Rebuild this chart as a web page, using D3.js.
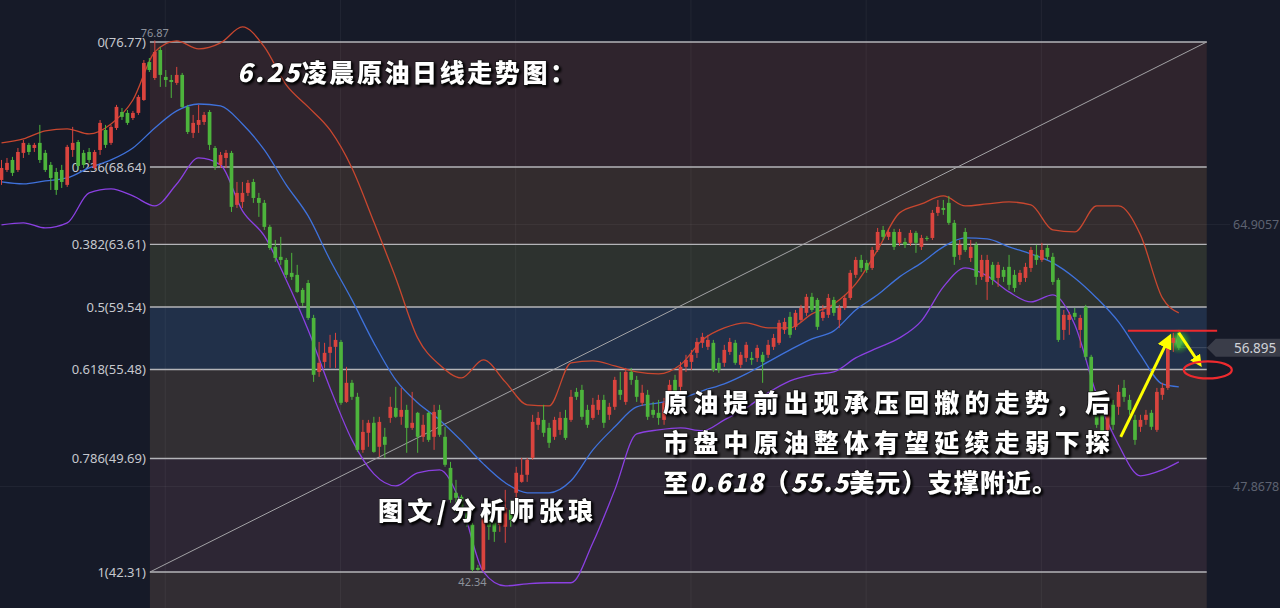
<!DOCTYPE html>
<html><head><meta charset="utf-8">
<script src="https://cdn.jsdelivr.net/npm/d3@7"></script>
<style>
html,body{margin:0;padding:0;background:#161a28;overflow:hidden}
svg{display:block}
</style></head><body>
<svg id="c" width="1280" height="608"></svg>
<script>
// ---------------- DATA ----------------
const fibRatios = [0, 0.236, 0.382, 0.5, 0.618, 0.786, 1];
const fibPrices = [76.77, 68.64, 63.61, 59.54, 55.48, 49.69, 42.31];
const fibAnchor = [27.1, 220.1];           // candle index where the fib tool starts / ends
const axisTicks = [64.9057, 47.8678];
const gridIdx = [29.9, 61.9, 93.9, 125.9, 157.9, 189.9];
const lastPrice = 56.895;
const highMark = [28, 76.87];
const lowMark = [86, 42.34];

// candles: [open, high, low, close]
const candles = [
[67.80,69.10,67.48,68.58],[68.45,69.23,68.32,68.91],[69.10,69.30,68.06,68.26],[68.45,69.88,68.32,69.62],[69.56,70.40,69.23,70.21],
[70.08,70.21,69.43,69.62],[69.88,70.21,69.62,70.08],[70.21,71.38,68.91,69.10],[69.56,69.75,68.32,68.45],[68.78,68.97,67.15,67.93],
[68.32,68.58,66.83,67.15],[68.45,68.78,67.28,67.67],[67.48,70.08,67.35,69.95],[69.75,71.25,69.30,70.21],[70.27,70.40,68.45,68.71],
[69.56,69.75,68.58,68.78],[69.62,69.88,68.91,69.10],[68.58,69.75,68.45,69.62],[69.75,71.70,69.43,71.51],[71.05,71.38,69.88,70.08],
[70.21,71.38,70.08,71.25],[71.18,72.68,71.05,72.55],[72.22,72.48,71.70,71.90],[72.16,72.35,71.38,71.51],[71.83,72.29,71.70,72.16],
[72.16,73.33,72.03,73.20],[73.00,75.60,72.94,75.41],[75.47,75.73,74.82,74.95],[74.43,76.87,74.30,76.12],[76.25,76.45,73.85,74.63],
[74.50,74.95,73.85,74.30],[74.30,74.63,73.13,74.17],[74.11,75.15,73.98,74.63],[74.63,74.76,72.48,72.55],[72.55,72.68,70.79,70.92],
[70.86,72.03,70.53,71.51],[71.38,72.68,70.86,71.70],[71.57,72.22,71.38,72.03],[72.22,72.35,69.75,70.08],[69.88,70.01,68.45,68.65],
[68.78,69.62,68.58,69.43],[69.23,69.75,68.58,69.56],[69.56,69.69,65.72,66.05],[66.18,67.67,65.98,66.96],[66.37,67.67,65.98,66.96],
[66.96,67.80,66.76,67.61],[67.67,67.87,66.31,66.63],[66.63,66.96,65.40,66.31],[66.31,66.50,64.55,64.75],[64.75,64.88,63.25,63.38],
[63.45,63.90,62.47,62.73],[62.80,64.10,62.28,62.60],[62.60,62.73,61.43,61.63],[61.76,63.06,61.30,61.50],[61.63,62.28,60.46,60.52],
[60.65,60.78,59.61,59.81],[61.10,61.30,58.70,58.83],[58.83,59.03,54.67,55.13],[55.32,57.27,55.00,55.91],[55.97,57.21,55.58,56.56],
[56.56,57.73,55.58,56.95],[56.95,57.86,55.58,57.40],[57.27,57.40,53.18,53.31],[53.37,55.65,53.31,54.61],[54.61,54.80,53.50,53.70],
[53.70,53.96,50.12,50.25],[50.25,52.20,50.06,51.42],[51.36,52.20,50.45,52.01],[52.01,52.40,50.06,50.12],[50.45,52.40,49.80,52.07],
[51.10,51.68,49.73,50.58],[52.33,53.70,52.01,53.05],[52.98,54.35,52.33,52.40],[52.40,54.28,51.88,52.85],[52.85,53.18,50.06,51.68],
[51.68,54.02,51.55,52.01],[52.66,52.72,50.06,51.10],[51.10,52.53,50.77,51.88],[52.66,52.72,50.77,50.90],[51.10,53.18,50.25,52.72],
[52.85,53.18,51.10,51.23],[51.10,51.75,49.15,49.28],[49.08,49.47,46.81,47.00],[47.46,48.30,46.16,47.13],[47.20,47.33,46.16,46.35],
[46.48,46.55,45.25,45.51],[45.38,45.51,42.34,42.45],[42.58,42.78,42.40,42.45],[42.45,46.03,42.36,45.90],[45.90,46.35,44.40,45.25],
[45.51,46.81,44.27,44.92],[45.38,46.03,44.92,45.90],[45.25,47.65,44.21,46.48],[46.35,47.00,45.25,45.70],[47.46,49.15,45.70,48.76],
[48.17,49.73,48.11,48.63],[48.63,49.73,48.17,49.60],[49.73,52.53,49.60,52.07],[51.88,52.72,51.55,52.33],[52.20,53.18,51.10,51.36],
[51.68,52.01,50.38,50.71],[51.10,52.40,50.90,52.20],[51.55,52.72,51.23,52.33],[52.33,52.85,50.90,51.03],[52.20,54.15,52.07,53.70],
[54.02,54.28,53.50,53.70],[54.15,54.48,52.20,52.40],[52.85,53.18,51.68,51.88],[52.33,53.63,52.20,53.18],[52.85,53.83,52.53,53.50],
[53.50,53.83,51.68,52.01],[52.53,53.31,52.20,53.05],[53.05,55.00,52.85,54.80],[54.15,55.32,53.50,53.83],[53.37,55.58,53.18,55.32],
[55.32,55.58,54.48,54.80],[54.80,55.06,53.37,53.70],[53.31,54.48,53.11,53.96],[53.83,54.15,52.20,52.40],[52.85,53.37,52.33,52.53],
[52.66,53.50,51.88,52.33],[52.20,53.63,51.88,53.31],[53.37,54.80,53.18,54.48],[54.80,55.13,53.50,53.83],[54.35,55.97,54.02,55.65],
[55.65,56.43,55.32,56.10],[55.97,56.75,55.45,56.43],[56.56,57.53,56.23,57.27],[57.21,57.86,56.88,57.60],[56.95,57.73,56.75,57.40],
[57.21,57.40,55.32,55.45],[55.91,56.23,55.26,55.45],[55.91,57.08,55.65,56.75],[56.62,57.53,56.43,57.27],[57.21,57.40,55.78,55.91],
[55.78,56.62,55.58,56.43],[56.23,57.27,55.97,57.08],[56.23,56.62,55.78,56.10],[56.23,57.08,55.97,56.88],[56.43,56.62,54.61,55.97],
[56.43,57.40,56.23,57.08],[56.95,57.79,56.75,57.53],[57.21,58.70,57.08,58.51],[58.05,58.83,57.79,58.57],[58.90,59.22,57.53,57.73],
[58.25,59.35,58.05,59.16],[58.70,59.68,58.57,59.48],[59.16,60.39,58.96,60.20],[60.20,60.46,59.22,59.35],[60.00,60.13,58.05,58.25],
[58.83,59.68,58.64,59.22],[59.03,60.39,58.83,60.13],[60.00,60.20,58.96,59.16],[58.70,59.68,58.18,59.48],[59.48,60.33,59.35,60.13],
[60.13,61.95,60.00,61.76],[61.63,62.80,61.43,62.60],[62.60,62.93,61.82,62.08],[62.41,62.60,61.76,61.95],[62.08,63.45,61.95,63.25],
[63.25,64.68,63.12,64.42],[64.55,64.81,63.90,64.10],[64.10,64.62,63.90,64.42],[64.42,64.62,63.25,63.45],[63.71,64.62,63.51,64.42],
[63.77,64.03,63.38,63.58],[63.71,64.55,63.51,64.36],[64.36,64.49,63.06,63.71],[63.45,64.23,63.25,64.03],[64.03,64.16,63.84,63.97],
[64.03,65.85,63.90,65.66],[65.66,66.50,65.46,66.05],[65.98,66.50,65.53,65.85],[66.31,66.76,64.88,65.01],[65.01,65.20,62.28,62.80],
[62.93,63.90,62.60,63.58],[64.42,64.68,63.12,63.25],[62.73,63.90,62.47,63.45],[63.58,63.77,60.98,61.50],[61.50,62.93,61.30,62.60],
[61.17,62.93,60.00,62.60],[62.28,62.47,60.98,61.30],[61.43,62.47,60.85,62.28],[61.95,62.15,61.17,61.50],[62.15,62.93,60.65,60.98],
[61.63,61.95,60.52,60.78],[61.17,61.95,60.98,61.76],[61.43,62.41,61.17,62.15],[62.08,63.45,61.82,63.25],[62.93,63.58,62.28,62.60],
[62.60,63.71,62.47,63.25],[63.38,63.58,62.60,62.80],[62.80,63.06,60.98,61.17],[61.30,61.43,57.27,57.40],[58.05,59.35,57.40,59.03],
[58.70,59.22,57.73,59.03],[59.16,59.48,58.70,58.90],[58.05,59.03,56.88,58.83],[59.55,59.68,56.10,56.30],[56.30,56.43,52.72,52.85],
[53.18,53.50,51.68,51.88],[52.53,52.85,50.90,51.23],[51.55,53.18,51.42,52.85],[53.18,53.50,51.55,51.88],[53.05,54.48,52.53,54.02],
[54.28,54.80,53.37,53.70],[53.50,53.83,52.53,52.85],[52.20,52.53,50.58,50.90],[51.75,52.53,51.42,52.20],[52.20,52.85,51.88,52.53],
[52.66,52.85,51.55,51.75],[51.55,54.28,51.42,54.02],[53.83,54.61,53.50,54.28],[54.28,57.40,54.15,57.27],[57.21,57.86,56.62,57.53],
[57.86,58.05,56.75,56.895]
];

// Bollinger bands sampled at these candle indices
const bandIdx = [0,4,8,12,16,20,24,28,32,36,40,44,48,52,56,60,64,68,72,76,80,84,88,92,96,100,104,108,112,116,120,124,128,132,136,140,144,148,152,156,160,164,168,172,176,180,184,188,192,196,200,204,208,212,215];
const upperBand = [70.21,70.47,70.99,71.12,70.79,71.44,73.00,76.12,76.84,76.32,76.71,77.75,76.45,73.98,72.55,71.05,68.58,65.07,61.43,57.53,55.78,54.93,56.10,54.67,53.18,53.11,55.91,56.04,55.71,55.32,55.19,55.78,57.40,58.18,58.51,58.18,58.18,59.09,59.74,61.04,63.25,65.66,66.24,66.76,66.11,66.24,66.37,66.18,64.55,64.42,66.11,66.11,64.23,60.13,59.16];
const midBand = [67.67,67.54,67.74,67.93,68.58,69.10,69.88,71.18,72.29,72.74,72.61,71.44,69.75,67.48,65.46,62.60,60.00,57.21,54.80,53.31,52.20,50.84,49.34,48.11,47.46,47.46,48.24,50.25,51.75,53.05,53.31,53.57,54.09,54.54,55.19,55.97,56.75,57.47,57.99,59.35,60.33,61.50,62.41,63.45,64.03,63.97,63.45,62.99,62.41,61.43,60.13,58.57,56.43,54.54,54.35];
const lowerBand = [64.88,65.01,64.68,65.01,66.96,67.22,66.76,66.11,67.54,69.23,68.78,65.79,64.16,61.30,58.05,54.28,50.90,48.69,47.91,48.76,48.95,46.68,42.32,41.41,41.54,41.61,41.61,44.21,47.65,51.29,51.55,51.68,51.49,52.20,52.98,53.96,54.74,55.13,55.32,56.23,56.88,57.53,58.64,60.85,62.08,61.56,60.52,59.87,60.33,58.38,53.83,50.58,48.56,48.95,49.47];

// hand-drawn annotations (candle index, price)
const resistanceLine = [[205.7, 58.0], [222.0, 58.0]];
const arrowUp = [[204.4, 51.1], [213.1, 57.45]];
const arrowDown = [[215.0, 57.86], [218.7, 55.9]];
const targetSpot = [220.3, 55.45];

const titleText = "6.25凌晨原油日线走势图：";
const creditText = "图文/分析师张琅";
const noteLines = ["原油提前出现承压回撤的走势，后", "市盘中原油整体有望延续走弱下探", "至0.618（55.5美元）支撑附近。"];

// ---------------- DRAW ----------------
const W = 1280, H = 608;
const svg = d3.select('#c');
const x = d3.scaleLinear().domain([0, 215]).range([1.5, 1178.8]);
const y = d3.scaleLinear().domain([42.31, 76.77]).range([572, 42]);

const defs = svg.append('defs');
const sh = defs.append('filter').attr('id', 'ts').attr('x', '-5%').attr('y', '-30%').attr('width', '115%').attr('height', '170%');
sh.append('feDropShadow').attr('dx', 1.8).attr('dy', 1.8).attr('stdDeviation', 1).attr('flood-color', '#000').attr('flood-opacity', 1);
const gl = defs.append('radialGradient').attr('id', 'glow');
gl.append('stop').attr('offset', '0%').attr('stop-color', '#7dff5e').attr('stop-opacity', 0.9);
gl.append('stop').attr('offset', '55%').attr('stop-color', '#3ecf2c').attr('stop-opacity', 0.45);
gl.append('stop').attr('offset', '100%').attr('stop-color', '#2a9a20').attr('stop-opacity', 0);
function marker(id, size) {
  defs.append('marker').attr('id', id).attr('viewBox', '0 0 10 10').attr('refX', 6).attr('refY', 5)
    .attr('markerUnits', 'userSpaceOnUse').attr('markerWidth', size).attr('markerHeight', size).attr('orient', 'auto')
    .append('path').attr('d', 'M0,0 L10,5 L0,10 Z').attr('fill', '#ffff00');
}
marker('ah1', 15); marker('ah2', 12);

svg.append('rect').attr('width', W).attr('height', H).attr('fill', '#161a28');

// fib zones
const zoneColors = ['#2f242d', '#332c2e', '#2d322f', '#213049', '#322f33', '#2d2634', '#322d33'];
const fx0 = x(fibAnchor[0]), fx1 = x(fibAnchor[1]);
const zoneEdges = fibPrices.map(p => y(p)).concat([H]);
svg.append('g').selectAll('rect').data(d3.range(zoneEdges.length - 1)).join('rect')
  .attr('x', fx0).attr('width', fx1 - fx0)
  .attr('y', k => zoneEdges[k]).attr('height', k => zoneEdges[k + 1] - zoneEdges[k])
  .attr('fill', k => zoneColors[k]);

// grid
svg.append('g').selectAll('line').data(gridIdx).join('line')
  .attr('x1', d => x(d)).attr('x2', d => x(d)).attr('y1', 0).attr('y2', H)
  .attr('stroke', '#ffffff').attr('stroke-opacity', 0.05);
svg.append('g').selectAll('line').data(axisTicks).join('line')
  .attr('x1', 0).attr('x2', 1230).attr('y1', d => y(d)).attr('y2', d => y(d))
  .attr('stroke', '#ffffff').attr('stroke-opacity', 0.05);

// fib lines + labels
svg.append('g').selectAll('line').data(fibPrices).join('line')
  .attr('x1', fx0).attr('x2', fx1).attr('y1', d => y(d)).attr('y2', d => y(d))
  .attr('stroke', '#b4b4b8').attr('stroke-width', 1.4);
svg.append('g').selectAll('text').data(fibPrices).join('text')
  .attr('x', fx0 - 4).attr('y', d => y(d) + 5).attr('text-anchor', 'end')
  .attr('font-family', '"Noto Sans", "Open Sans", sans-serif').attr('font-size', 13).attr('fill', '#c6c8ce')
  .text((d, i) => `${fibRatios[i]}(${d.toFixed(2)})`);

// diagonal of the fib tool
svg.append('line').attr('x1', fx0).attr('y1', y(fibPrices[6])).attr('x2', fx1).attr('y2', y(fibPrices[0]))
  .attr('stroke', '#a3a3a6').attr('stroke-width', 1);

// right axis
svg.append('g').selectAll('text').data(axisTicks).join('text')
  .attr('x', 1233).attr('y', d => y(d) + 4.5)
  .attr('font-family', '"Noto Sans", sans-serif').attr('font-size', 12.5).attr('fill', '#5d6271')
  .text(d => d);

// bollinger bands
const line = vals => d3.line().x((d, i) => x(bandIdx[i])).y(d => y(d)).curve(d3.curveMonotoneX)(vals);
svg.append('path').attr('d', line(upperBand)).attr('fill', 'none').attr('stroke', '#c9472f').attr('stroke-width', 1.3);
svg.append('path').attr('d', line(midBand)).attr('fill', 'none').attr('stroke', '#3f72dc').attr('stroke-width', 1.3);
svg.append('path').attr('d', line(lowerBand)).attr('fill', 'none').attr('stroke', '#8b40e2').attr('stroke-width', 1.3);

// last price guide
svg.append('line').attr('x1', x(215)).attr('x2', fx1).attr('y1', y(lastPrice)).attr('y2', y(lastPrice))
  .attr('stroke', '#ffffff').attr('stroke-opacity', 0.15);

// glow behind last candle
svg.append('circle').attr('cx', x(215)).attr('cy', y(57.3)).attr('r', 13).attr('fill', 'url(#glow)');

// candles
const up = '#da443e', dn = '#4db43c';
const cg = svg.append('g');
cg.selectAll('line').data(candles).join('line')
  .attr('x1', (d, i) => x(i)).attr('x2', (d, i) => x(i))
  .attr('y1', d => y(d[1])).attr('y2', d => y(d[2]))
  .attr('stroke', d => d[3] >= d[0] ? up : dn).attr('stroke-width', 1);
const bw = 3.7;
cg.selectAll('rect').data(candles).join('rect')
  .attr('x', (d, i) => x(i) - bw / 2).attr('width', bw)
  .attr('y', d => y(Math.max(d[0], d[3])))
  .attr('height', d => Math.max(1, Math.abs(y(d[0]) - y(d[3]))))
  .attr('fill', d => d[3] >= d[0] ? up : dn);

// high / low marks
svg.append('text').attr('x', x(highMark[0])).attr('y', y(highMark[1]) - 3).attr('text-anchor', 'middle')
  .attr('font-family', '"Noto Sans", sans-serif').attr('font-size', 11).attr('fill', '#8d919b').text(highMark[1]);
svg.append('text').attr('x', x(lowMark[0])).attr('y', y(lowMark[1]) + 14).attr('text-anchor', 'middle')
  .attr('font-family', '"Noto Sans", sans-serif').attr('font-size', 11).attr('fill', '#8d919b').text(lowMark[1]);

// price tag
const ty = y(lastPrice);
svg.append('path').attr('d', `M${fx1},${ty} L${fx1 + 9},${ty - 9} L${W},${ty - 9} L${W},${ty + 9} L${fx1 + 9},${ty + 9} Z`)
  .attr('fill', '#3a3d49');
svg.append('text').attr('x', 1234).attr('y', ty + 5).attr('font-family', '"Noto Sans", sans-serif')
  .attr('font-size', 13.5).attr('fill', '#cfd1d7').text(lastPrice);

// annotations
svg.append('line').attr('x1', x(resistanceLine[0][0])).attr('x2', x(resistanceLine[1][0]))
  .attr('y1', y(resistanceLine[0][1])).attr('y2', y(resistanceLine[1][1]))
  .attr('stroke', '#ee2a2e').attr('stroke-width', 2);
svg.append('line').attr('x1', x(arrowUp[0][0])).attr('y1', y(arrowUp[0][1]))
  .attr('x2', x(arrowUp[1][0])).attr('y2', y(arrowUp[1][1]))
  .attr('stroke', '#ffff00').attr('stroke-width', 3).attr('marker-end', 'url(#ah1)');
svg.append('line').attr('x1', x(arrowDown[0][0])).attr('y1', y(arrowDown[0][1]))
  .attr('x2', x(arrowDown[1][0])).attr('y2', y(arrowDown[1][1]))
  .attr('stroke', '#ffff00').attr('stroke-width', 3).attr('marker-end', 'url(#ah2)');
svg.append('ellipse').attr('cx', x(targetSpot[0])).attr('cy', y(targetSpot[1])).attr('rx', 24).attr('ry', 8.5)
  .attr('fill', 'none').attr('stroke', '#ee2a2e').attr('stroke-width', 2.2);

// captions (digits slanted like the brush font)
function caption(str, px, py, len) {
  const t = svg.append('text').attr('x', px).attr('y', py)
    .attr('font-family', '"Noto Sans CJK SC", sans-serif').attr('font-weight', 900).attr('font-size', 25)
    .attr('fill', '#ffffff').attr('stroke', '#111').attr('stroke-width', 1.2).attr('paint-order', 'stroke')
    .attr('filter', 'url(#ts)').attr('textLength', len).attr('lengthAdjust', 'spacing');
  str.split(/([0-9.]+)/).filter(s => s.length).forEach(s => {
    const ts = t.append('tspan').text(s);
    if (/^[0-9.]+$/.test(s)) ts.attr('font-style', 'italic');
  });
}
caption(titleText, 237, 82, 338);
caption(creditText, 378, 520, 215);
caption(noteLines[0], 663, 412, 447);
caption(noteLines[1], 663, 452, 447);
caption(noteLines[2], 663, 492, 394);
</script>
</body></html>
